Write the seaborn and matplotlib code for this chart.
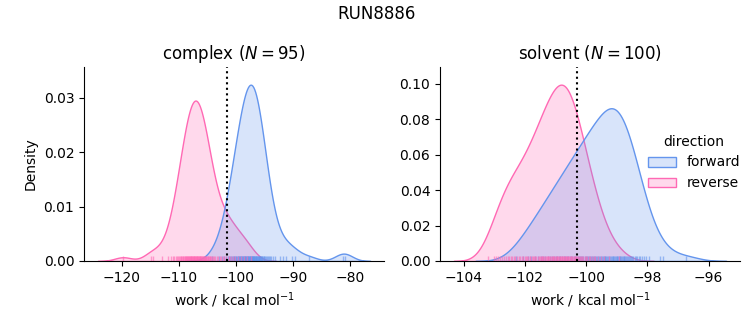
import numpy as np
import pandas as pd
import seaborn as sns
import matplotlib
matplotlib.use("Agg")
import matplotlib.pyplot as plt

run_title = "RUN8886"
phases = ["complex", "solvent"]
phase_n = [95, 100]
directions = ["forward", "reverse"]
delta_f = [-101.6, -100.29]

complex_forward = [
    -104.12, -103.01, -102.45, -102.05, -101.74, -101.48, -101.26, -101.06, -100.88, -100.72,
    -100.57, -100.42, -100.29, -100.16, -100.05, -99.93, -99.81, -99.71, -99.60, -99.51,
    -99.41, -99.32, -99.23, -99.14, -99.05, -98.97, -98.88, -98.79, -98.72, -98.64,
    -98.56, -98.49, -98.41, -98.34, -98.25, -98.18, -98.11, -98.04, -97.97, -97.89,
    -97.82, -97.75, -97.68, -97.62, -97.54, -97.47, -97.41, -97.34,
    -97.27, -97.21, -97.14, -97.08, -97.01, -96.95, -96.89, -96.82, -96.76, -96.69,
    -96.62, -96.56, -96.49, -96.42, -96.35, -96.27, -96.20, -96.12, -96.05, -95.98,
    -95.90, -95.82, -95.73, -95.64, -95.55, -95.46, -95.36, -95.26, -95.15, -95.03,
    -94.91, -94.78, -94.63, -94.47, -94.29, -94.09, -93.84, -93.53, -93.09, -92.23,
    -91.8, -91.2, -90.1, -89.7, -87.2, -81.3, -80.9,
]

complex_reverse = [
    -119.8, -114.9, -114.5,
    -112.95, -111.97, -111.46, -111.11, -110.82, -110.57, -110.37, -110.19, -110.02, -109.86,
    -109.72, -109.58, -109.47, -109.34, -109.23, -109.13, -109.02, -108.92, -108.82, -108.73,
    -108.63, -108.54, -108.46, -108.37, -108.29, -108.20, -108.12, -108.05, -107.96, -107.88,
    -107.81, -107.73, -107.66, -107.58, -107.51, -107.43, -107.36, -107.28, -107.21, -107.14,
    -107.06, -106.99, -106.92, -106.84, -106.77, -106.70, -106.62, -106.54, -106.47, -106.39,
    -106.32, -106.24, -106.16, -106.08, -106.00, -105.91, -105.83, -105.74, -105.66, -105.57,
    -105.47, -105.38, -105.28, -105.18, -105.07, -104.97, -104.86, -104.73, -104.62, -104.48,
    -104.34, -104.18, -104.01, -103.83, -103.63, -103.38, -103.09, -102.74, -102.23, -101.25,
    -102.6, -102.1, -101.7, -101.3, -100.9, -100.5, -100.1, -99.6, -99.1, -98.6, -98.0, -97.4,
]

solvent_forward = [
    -102.29, -102.07, -101.91, -101.79, -101.68, -101.58, -101.49, -101.41, -101.33, -101.26,
    -101.19, -101.13, -101.06, -101.00, -100.95, -100.89, -100.84, -100.78, -100.73, -100.68,
    -100.63, -100.59, -100.54, -100.50, -100.45, -100.41, -100.36, -100.33, -100.28, -100.24,
    -100.20, -100.16, -100.13, -100.09, -100.05, -100.01, -99.98, -99.94, -99.91, -99.87,
    -99.84, -99.80, -99.77, -99.74, -99.71, -99.67, -99.64, -99.61, -99.58, -99.54,
    -99.52, -99.49, -99.45, -99.43, -99.39, -99.37, -99.34, -99.31, -99.28, -99.25,
    -99.22, -99.19, -99.17, -99.14, -99.11,
    -99.09, -99.06, -99.04, -99.01, -98.99, -98.96, -98.94, -98.91, -98.88, -98.86,
    -98.83, -98.80, -98.78, -98.75, -98.72, -98.69, -98.66, -98.63, -98.60, -98.56,
    -98.53, -98.49, -98.46, -98.42, -98.38, -98.33, -98.28, -98.23, -98.17, -98.11,
    -98.04, -97.95, -97.6, -97.5, -96.75,
]

solvent_reverse = [
    -103.2, -103.0,
    -102.95, -102.88, -102.81, -102.74, -102.67, -102.61,
    -102.56, -102.51, -102.46, -102.41, -102.36, -102.31, -102.26, -102.21, -102.16, -102.11,
    -102.06, -102.01,
    -101.97, -101.93, -101.89, -101.85, -101.82, -101.78, -101.74, -101.70, -101.66, -101.63,
    -101.59, -101.55, -101.52,
    -101.48, -101.45, -101.43, -101.40, -101.37, -101.35, -101.32, -101.29, -101.26, -101.24,
    -101.21, -101.18, -101.15, -101.13, -101.10, -101.07, -101.04, -101.02, -100.99, -100.96,
    -100.94, -100.91,
    -100.89, -100.87, -100.85, -100.82, -100.80, -100.78, -100.76, -100.74, -100.71, -100.69,
    -100.67, -100.65, -100.62, -100.60, -100.58, -100.55, -100.53, -100.50, -100.48, -100.45,
    -100.43, -100.40, -100.37, -100.35, -100.32, -100.29, -100.26, -100.23, -100.20, -100.16,
    -100.13, -100.09, -100.05, -100.01, -99.97, -99.92, -99.87, -99.82, -99.76, -99.70,
    -99.62, -99.52, -99.41, -99.24, -98.92,
]

palette = {"forward": "cornflowerblue", "reverse": "hotpink"}

frames = []
for phase, fwd, rev in [("complex", complex_forward, complex_reverse),
                        ("solvent", solvent_forward, solvent_reverse)]:
    frames.append(pd.DataFrame({"work": fwd, "direction": "forward", "phase": phase}))
    frames.append(pd.DataFrame({"work": rev, "direction": "reverse", "phase": phase}))
df = pd.concat(frames, ignore_index=True)

g = sns.displot(
    data=df, x="work", hue="direction", col="phase", kind="kde",
    fill=True, rug=True, palette=palette, hue_order=directions, col_order=phases,
    facet_kws=dict(sharex=False, sharey=False), height=3.25, aspect=1.0,
    rug_kws=dict(alpha=0.6),
)

fig = g.figure
fig.set_size_inches(7.53, 3.25)
positions = [[84 / 753, 1 - 261 / 325, 300 / 753, 194 / 325],
             [440 / 753, 1 - 261 / 325, 300 / 753, 194 / 325]]
for ax, phase, n, df_val, pos in zip(g.axes.flat, phases, phase_n, delta_f, positions):
    ax.set_position(pos)
    ax.axvline(df_val, color="k", linestyle=":", linewidth=1.5)
    ax.set_title(f"{phase} ($N={n}$)", fontsize=12)
    ax.set_xlabel("work / kcal mol$^{-1}$")
    ax.margins(y=0.1)
    ax.autoscale(axis="y")
g.axes.flat[0].set_ylabel("Density")
g.axes.flat[1].set_ylabel("")

fig.suptitle(run_title, fontsize=12, y=0.985)
g._legend.set_bbox_to_anchor((1.0, 0.5), transform=fig.transFigure)

fig.savefig("out.png", dpi=100)
